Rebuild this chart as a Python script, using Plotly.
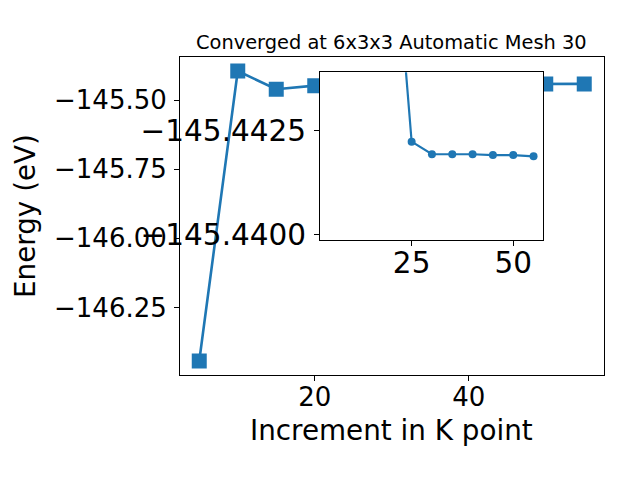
import plotly.graph_objects as go

# ---- data ----
kpoints = [5, 10, 15, 20, 25, 30, 35, 40, 45, 50, 55]
energies = [-146.4433, -145.3952, -145.4613, -145.4482, -145.44223, -145.44193,
            -145.44193, -145.44193, -145.44191, -145.44191, -145.44188]
inset_start = 3  # inset shows the series from the 4th point on

main_xticks = [20, 40]
main_yticks = [-145.50, -145.75, -146.00, -146.25]
inset_xticks = [25, 50]
inset_yticks = [-145.4425, -145.4400]

title_text = "Converged at 6x3x3 Automatic Mesh 30"
xlabel = "Increment in K point"
ylabel = "Energy (eV)"

BLUE = "#1f77b4"
FONT = "DejaVu Sans"


def fmt(v, d):
    s = f"{abs(v):.{d}f}"
    return ("\u2212" + s) if v < 0 else s


fig = go.Figure()
fig.add_trace(go.Scatter(
    x=kpoints, y=energies, mode="lines+markers",
    line=dict(color=BLUE, width=2.6),
    marker=dict(symbol="square", size=15, color=BLUE),
    xaxis="x", yaxis="y", showlegend=False, cliponaxis=True))
fig.add_trace(go.Scatter(
    x=kpoints[inset_start:], y=energies[inset_start:], mode="lines+markers",
    line=dict(color=BLUE, width=2.2),
    marker=dict(symbol="circle", size=8, color=BLUE),
    xaxis="x2", yaxis="y2", showlegend=False, cliponaxis=True))

axis_common = dict(showline=True, linecolor="black", linewidth=1, mirror=True,
                   ticks="outside", ticklen=5, tickwidth=1, tickcolor="black",
                   showgrid=False, zeroline=False, automargin=False)

fig.update_layout(
    width=640, height=480,
    margin=dict(l=0, r=0, t=0, b=0, autoexpand=False),
    paper_bgcolor="white", plot_bgcolor="white",
    font=dict(family=FONT, color="black"),
    xaxis=dict(domain=[180 / 640, 603.5 / 640], range=[2.5, 57.5],
               tickvals=main_xticks, ticktext=[str(v) for v in main_xticks],
               tickfont=dict(size=26, family=FONT, color="black"),
               ticklabelstandoff=-6, anchor="y", **axis_common),
    yaxis=dict(domain=[1 - 375 / 480, 1 - 56.5 / 480], range=[-146.4939, -145.3428],
               tickvals=main_yticks, ticktext=[fmt(v, 2) for v in main_yticks],
               tickfont=dict(size=26, family=FONT, color="black"),
               ticklabelstandoff=2, anchor="x", **axis_common),
    xaxis2=dict(domain=[0.5, 543.3 / 640], range=[2.45, 57.4],
                tickvals=inset_xticks, ticktext=[str(v) for v in inset_xticks],
                tickfont=dict(size=29.5, family=FONT, color="black"),
                ticklabelstandoff=-8, anchor="y2", **axis_common),
    yaxis2=dict(domain=[0.5, 1 - 72.3 / 480], range=[-145.43988, -145.44389],
                tickvals=inset_yticks, ticktext=[fmt(v, 4) for v in inset_yticks],
                tickfont=dict(size=29.5, family=FONT, color="black"),
                ticklabelstandoff=2, anchor="x2", **axis_common),
    annotations=[
        dict(text=title_text, x=391.7 / 640, y=1 - 42.5 / 480, xref="paper", yref="paper",
             xanchor="center", yanchor="middle", showarrow=False,
             font=dict(size=19.4, family=FONT, color="black")),
        dict(text=xlabel, x=391.5 / 640, y=1 - 430.3 / 480, xref="paper", yref="paper",
             xanchor="center", yanchor="middle", showarrow=False,
             font=dict(size=27.8, family=FONT, color="black")),
        dict(text=ylabel, x=26 / 640, y=1 - 216 / 480, xref="paper", yref="paper",
             xanchor="center", yanchor="middle", showarrow=False, textangle=-90,
             font=dict(size=27.8, family=FONT, color="black")),
    ],
)

fig.write_html("out.html",
               config={"displayModeBar": False},
               post_script="document.body.style.margin='0';document.body.style.padding='0';")
